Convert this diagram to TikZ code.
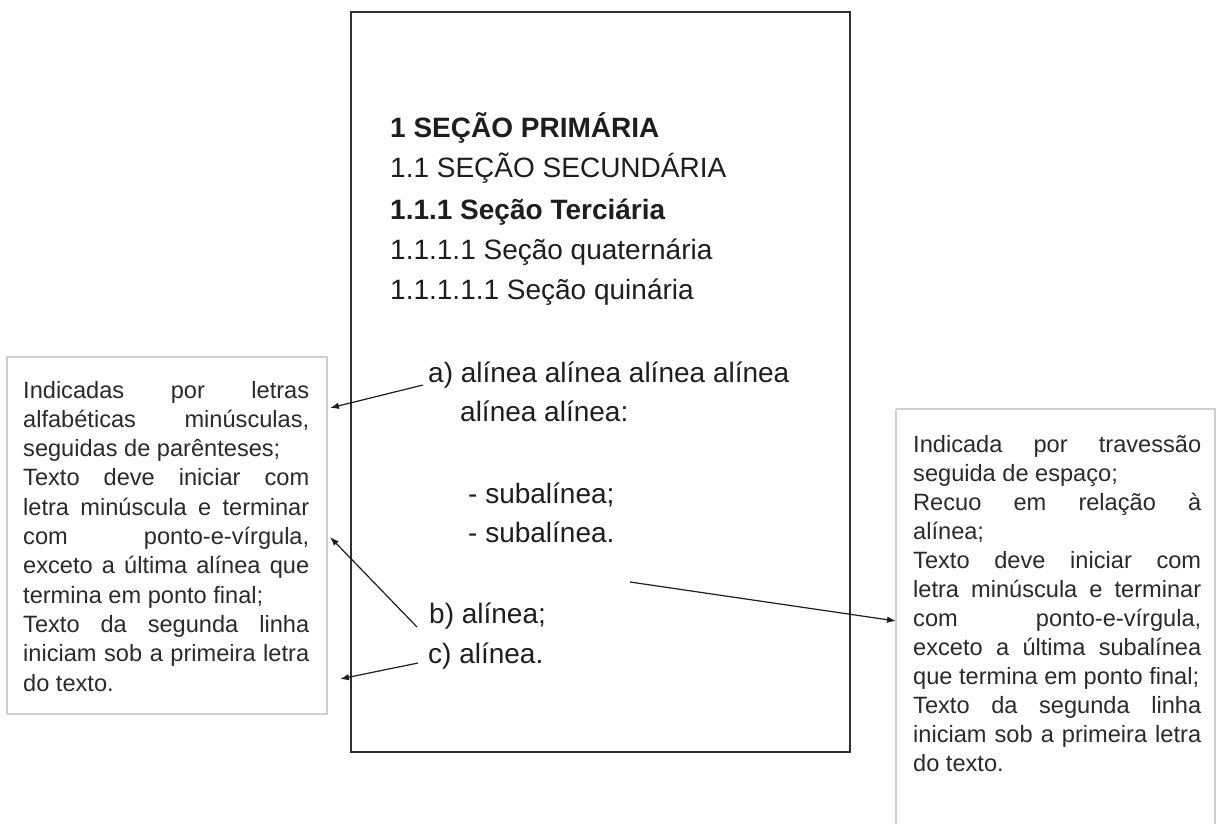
\documentclass[tikz,border=0pt]{standalone}
\usepackage{fontspec}
\setmainfont{Liberation Sans}
\usetikzlibrary{arrows.meta}
\definecolor{txt}{HTML}{1E1E1E}
\definecolor{boxtxt}{HTML}{2A2A2A}
\definecolor{pageline}{HTML}{303030}
\definecolor{noteline}{HTML}{D0D0D0}
\newcommand\jl[1]{\makebox[\linewidth][s]{#1}\\}
\tikzset{
  heading/.style={anchor=base west, inner sep=0pt, text=txt, font=\fontsize{28}{34}\selectfont},
  bodytxt/.style={anchor=base west, inner sep=0pt, text=txt, font=\fontsize{28}{34}\selectfont},
  notetxt/.style={anchor=base west, inner sep=0pt, text=boxtxt},
  pagebox/.style={draw=pageline, line width=1.6pt},
  notebox/.style={draw=noteline, line width=1.4pt},
  arr/.style={draw=txt, line width=1.2pt, -{Latex[length=9pt,width=6.5pt]}}
}
\begin{document}
\begin{tikzpicture}[x=1pt,y=-1pt]
\useasboundingbox (0,0) rectangle (1216,824);
\fill[white] (0,0) rectangle (1216,824);

% page
\draw[pagebox] (351,12) rectangle (850,752);

% headings
\node[heading, font=\fontsize{28}{34}\selectfont\bfseries] (h1) at (390,138) {1 SEÇÃO PRIMÁRIA};
\node[heading] (h2) at (390,178) {1.1 SEÇÃO SECUNDÁRIA};
\node[heading, font=\fontsize{28}{34}\selectfont\bfseries] (h3) at (390,219) {1.1.1 Seção Terciária};
\node[heading] (h4) at (390,259) {1.1.1.1 Seção quaternária};
\node[heading] (h5) at (390,299) {1.1.1.1.1 Seção quinária};

% alineas
\node[bodytxt] (al) at (428,382) {a) alínea alínea alínea alínea};
\node[bodytxt] (al2) at (460,421) {alínea alínea:};
\node[bodytxt] (s1) at (468,503) {- subalínea;};
\node[bodytxt] (s2) at (468,542) {- subalínea.};
\node[bodytxt] (bl) at (429,623) {b) alínea;};
\node[bodytxt] (cl) at (428,663) {c) alínea.};

% left note
\draw[notebox] (7,357) rectangle (327,714);
\node[notetxt] (leftnote) at (23,398) {\parbox[t]{286pt}{\fontsize{23.6}{29.3}\selectfont
\jl{Indicadas por letras}
\jl{alfabéticas minúsculas,}
seguidas de parênteses;\\
\jl{Texto deve iniciar com}
\jl{letra minúscula e terminar}
\jl{com ponto-e-vírgula,}
\jl{exceto a última alínea que}
termina em ponto final;\\
\jl{Texto da segunda linha}
\jl{iniciam sob a primeira letra}
do texto.}};

% right note
\draw[notebox] (896,409) -- (1215,409) -- (1215,830);
\draw[notebox] (896,409) -- (896,830);
\node[notetxt] (rightnote) at (913,452) {\parbox[t]{288pt}{\fontsize{23.6}{29}\selectfont
\jl{Indicada por travessão}
seguida de espaço;\\
\jl{Recuo em relação à}
alínea;\\
\jl{Texto deve iniciar com}
\jl{letra minúscula e terminar}
\jl{com ponto-e-vírgula,}
\jl{exceto a última subalínea}
que termina em ponto final;\\
\jl{Texto da segunda linha}
\jl{iniciam sob a primeira letra}
do texto.}};

% arrow end points
\coordinate (ta) at (330,408);
\coordinate (tb) at (330,537);
\coordinate (tc) at (340,679);
\coordinate (ts) at (896,621);
\coordinate (ss) at (630,582);

\draw[arr] ([xshift=-5pt,yshift=-3pt]al.base west) -- (ta);
\draw[arr] ([xshift=-12pt,yshift=-4pt]bl.base west) -- (tb);
\draw[arr] ([xshift=-10pt,yshift=0pt]cl.base west) -- (tc);
\draw[arr] (ss) -- (ts);
\end{tikzpicture}
\end{document}
